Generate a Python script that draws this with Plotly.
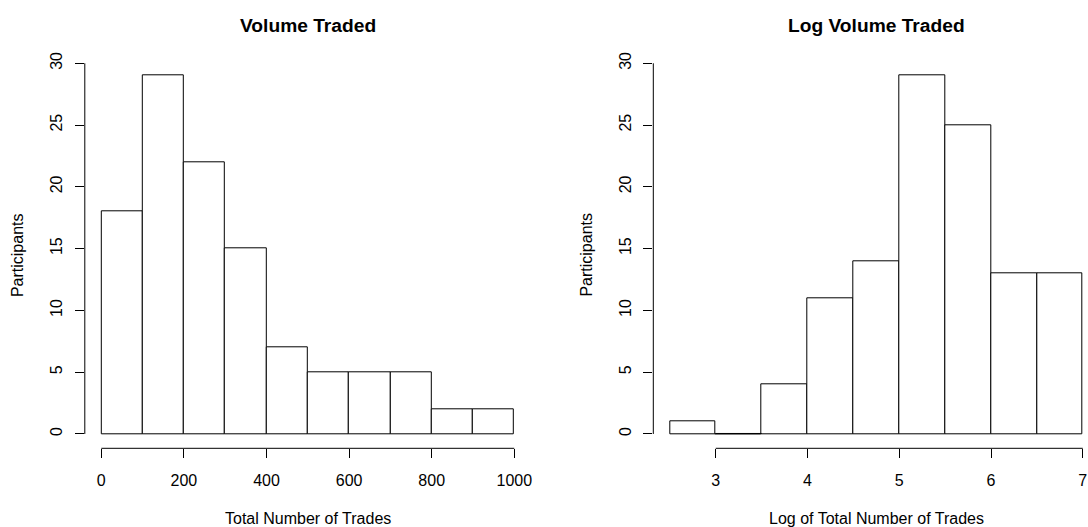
import plotly.graph_objects as go

# Histogram data: bin edges and counts per bin
vol_breaks = [0, 100, 200, 300, 400, 500, 600, 700, 800, 900, 1000]
vol_counts = [18, 29, 22, 15, 7, 5, 5, 5, 2, 2]

log_breaks = [2.5, 3.0, 3.5, 4.0, 4.5, 5.0, 5.5, 6.0, 6.5, 7.0]
log_counts = [1, 0, 4, 11, 14, 29, 25, 13, 13]

vol_xticks = [0, 200, 400, 600, 800, 1000]
log_xticks = [3, 4, 5, 6, 7]
y_ticks = [0, 5, 10, 15, 20, 25, 30]

titles = ["Volume Traded", "Log Volume Traded"]
xlabels = ["Total Number of Trades", "Log of Total Number of Trades"]
ylabel = "Participants"

W, H = 1088, 527
FONT = "Liberation Sans, Arial, Helvetica, sans-serif"

# plot-region boxes in pixels (left, top, width, bottom)
panels = [
    dict(left=84.8, top=61.3, width=446.0, bottom=448.3),
    dict(left=653.3, top=61.3, width=446.0, bottom=448.3),
]


def ext_range(lo, hi):
    pad = (hi - lo) * 0.04
    return lo - pad, hi + pad


fig = go.Figure()
annotations = []
shapes = []

datasets = [(vol_breaks, vol_counts, vol_xticks), (log_breaks, log_counts, log_xticks)]

for i, ((breaks, counts, xticks), box) in enumerate(zip(datasets, panels)):
    n = i + 1
    xa = "x" if n == 1 else f"x{n}"
    ya = "y" if n == 1 else f"y{n}"
    mids = [(a + b) / 2 for a, b in zip(breaks[:-1], breaks[1:])]
    widths = [b - a for a, b in zip(breaks[:-1], breaks[1:])]

    fig.add_trace(go.Bar(
        x=mids, y=counts, width=widths, xaxis=xa, yaxis=ya,
        marker=dict(color="white", line=dict(color="black", width=1)),
        showlegend=False, hoverinfo="x+y",
    ))

    # empty bins are drawn as a flat outline at zero (nudged half a pixel
    # so it lines up with the crisp bar bottoms)
    for a, b, c in zip(breaks[:-1], breaks[1:], counts):
        if c == 0:
            shapes.append(dict(type="line", xref=xa, yref=ya, x0=a, x1=b,
                               ysizemode="pixel", yanchor=0, y0=0.5, y1=0.5,
                               line=dict(color="black", width=1)))

    x_lo, x_hi = ext_range(min(breaks[0], xticks[0]), max(breaks[-1], xticks[-1]))
    units_per_px = (x_hi - x_lo) / box["width"]
    right_px = min(box["left"] + box["width"], W)
    x_range = [x_lo, x_lo + (right_px - box["left"]) * units_per_px]
    y_range = list(ext_range(0, max(counts)))

    dom_x = [box["left"] / W, right_px / W]
    dom_y = [1 - box["bottom"] / H, 1 - box["top"] / H]

    axis_font = dict(family=FONT, size=16, color="black")
    fig.update_layout(**{
        ("xaxis" if n == 1 else f"xaxis{n}"): dict(
            domain=dom_x, range=x_range, anchor=ya, showgrid=False, zeroline=False,
            showline=False, automargin=False, tickmode="array", tickvals=xticks,
            ticktext=[str(t) for t in xticks], ticks="outside", ticklen=9,
            tickwidth=1, tickcolor="black", tickfont=axis_font, ticklabelstandoff=8,
        ),
        ("yaxis" if n == 1 else f"yaxis{n}"): dict(
            domain=dom_y, range=y_range, anchor=xa, showgrid=False, zeroline=False,
            showline=False, automargin=False, tickmode="array", tickvals=y_ticks,
            ticktext=[str(t) for t in y_ticks], ticks="outside", ticklen=9,
            tickwidth=1, tickcolor="black", tickfont=axis_font, tickangle=-90,
            ticklabelstandoff=6,
        ),
    })

    # axis lines spanning the tick range only
    shapes.append(dict(type="line", xref=xa, yref=f"{ya} domain", x0=xticks[0], x1=xticks[-1],
                       y0=0, y1=0, line=dict(color="black", width=1)))
    shapes.append(dict(type="line", xref=f"{xa} domain", yref=ya, x0=0, x1=0,
                       y0=y_ticks[0], y1=y_ticks[-1], line=dict(color="black", width=1)))

    cx = (box["left"] + box["width"] / 2) / W
    annotations.append(dict(text=f"<b>{titles[i]}</b>", x=cx, y=1 - 25 / H, xref="paper",
                            yref="paper", showarrow=False, xanchor="center", yanchor="middle",
                            font=dict(family=FONT, size=19.2, color="black")))
    annotations.append(dict(text=xlabels[i], x=cx, y=1 - 518.5 / H, xref="paper",
                            yref="paper", showarrow=False, xanchor="center", yanchor="middle",
                            font=dict(family=FONT, size=16, color="black")))
    cy = 1 - (box["top"] + box["bottom"]) / 2 / H
    annotations.append(dict(text=ylabel, x=(box["left"] - 66.5) / W, y=cy, xref="paper",
                            yref="paper", showarrow=False, xanchor="center", yanchor="middle",
                            textangle=-90, font=dict(family=FONT, size=16, color="black")))

fig.update_layout(
    template="none",
    width=W, height=H, margin=dict(l=0, r=0, t=0, b=0, autoexpand=False),
    paper_bgcolor="white", plot_bgcolor="white",
    bargap=0, barmode="overlay",
    shapes=shapes, annotations=annotations,
    font=dict(family=FONT, color="black"),
)

fig.write_html("out.html", config={"displayModeBar": False})
